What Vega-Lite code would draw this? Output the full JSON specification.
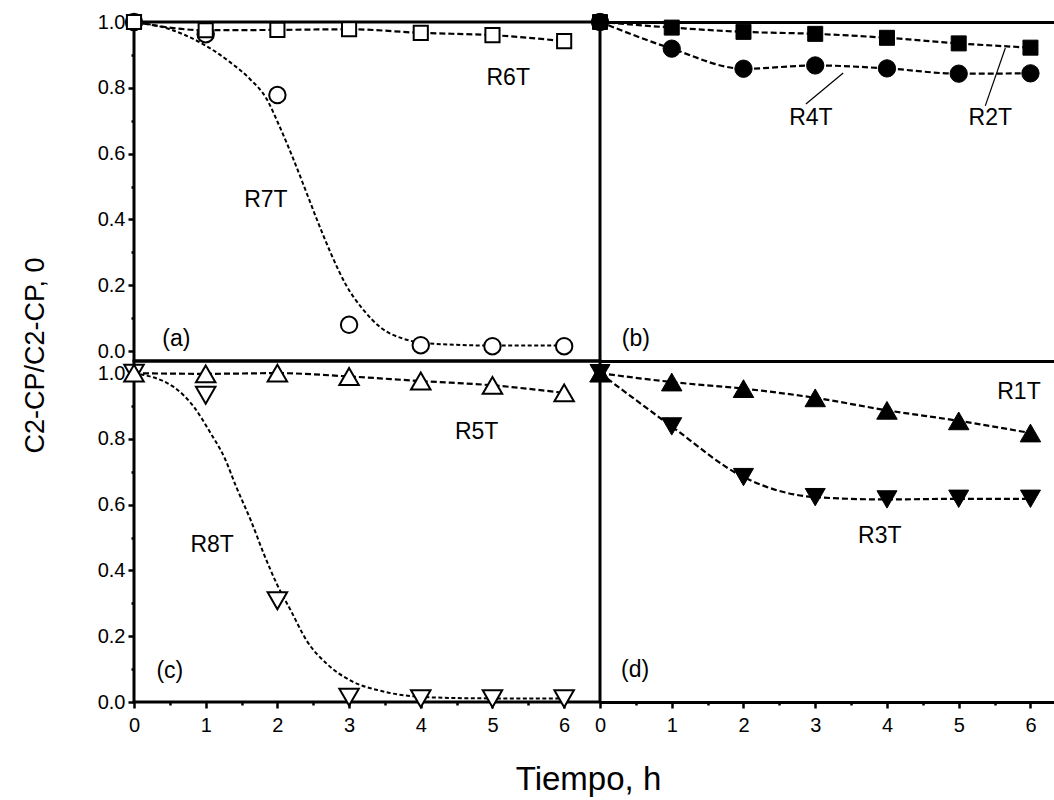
{
  "$schema": "https://vega.github.io/schema/vega-lite/v6.json",
  "background": "white",
  "padding": {"left": 19, "top": 8, "right": 0, "bottom": 0},
  "config": {
    "view": {"stroke": null},
    "font": "Liberation Sans",
    "axis": {
      "labelFont": "Liberation Sans",
      "labelFontSize": 20,
      "labelColor": "black",
      "tickColor": "black",
      "tickWidth": 2.5,
      "domainColor": "black",
      "domainWidth": 3,
      "titleFont": "Liberation Sans",
      "titleColor": "black",
      "titleFontWeight": "normal",
      "labelOverlap": false,
      "labelFlush": false
    }
  },
  "datasets": {
    "pts": [
      {"panel": "a", "series": "R7T", "x": 0, "y": 1.0},
      {"panel": "a", "series": "R7T", "x": 1, "y": 0.963},
      {"panel": "a", "series": "R7T", "x": 2, "y": 0.778},
      {"panel": "a", "series": "R7T", "x": 3, "y": 0.08},
      {"panel": "a", "series": "R7T", "x": 4, "y": 0.018},
      {"panel": "a", "series": "R7T", "x": 5, "y": 0.015},
      {"panel": "a", "series": "R7T", "x": 6, "y": 0.015},
      {"panel": "a", "series": "R6T", "x": 0, "y": 1.0},
      {"panel": "a", "series": "R6T", "x": 1, "y": 0.975},
      {"panel": "a", "series": "R6T", "x": 2, "y": 0.976},
      {"panel": "a", "series": "R6T", "x": 3, "y": 0.978},
      {"panel": "a", "series": "R6T", "x": 4, "y": 0.967},
      {"panel": "a", "series": "R6T", "x": 5, "y": 0.96},
      {"panel": "a", "series": "R6T", "x": 6, "y": 0.942},
      {"panel": "b", "series": "R4T", "x": 0, "y": 1.0},
      {"panel": "b", "series": "R4T", "x": 1, "y": 0.919},
      {"panel": "b", "series": "R4T", "x": 2, "y": 0.858},
      {"panel": "b", "series": "R4T", "x": 3, "y": 0.868},
      {"panel": "b", "series": "R4T", "x": 4, "y": 0.859},
      {"panel": "b", "series": "R4T", "x": 5, "y": 0.843},
      {"panel": "b", "series": "R4T", "x": 6, "y": 0.844},
      {"panel": "b", "series": "R2T", "x": 0, "y": 1.0},
      {"panel": "b", "series": "R2T", "x": 1, "y": 0.983},
      {"panel": "b", "series": "R2T", "x": 2, "y": 0.97},
      {"panel": "b", "series": "R2T", "x": 3, "y": 0.964},
      {"panel": "b", "series": "R2T", "x": 4, "y": 0.952},
      {"panel": "b", "series": "R2T", "x": 5, "y": 0.935},
      {"panel": "b", "series": "R2T", "x": 6, "y": 0.922},
      {"panel": "c", "series": "R8T", "x": 0, "y": 1.0},
      {"panel": "c", "series": "R8T", "x": 1, "y": 0.933},
      {"panel": "c", "series": "R8T", "x": 2, "y": 0.308},
      {"panel": "c", "series": "R8T", "x": 3, "y": 0.015},
      {"panel": "c", "series": "R8T", "x": 4, "y": 0.01},
      {"panel": "c", "series": "R8T", "x": 5, "y": 0.01},
      {"panel": "c", "series": "R8T", "x": 6, "y": 0.01},
      {"panel": "c", "series": "R5T", "x": 0, "y": 1.0},
      {"panel": "c", "series": "R5T", "x": 1, "y": 0.998},
      {"panel": "c", "series": "R5T", "x": 2, "y": 1.0},
      {"panel": "c", "series": "R5T", "x": 3, "y": 0.99},
      {"panel": "c", "series": "R5T", "x": 4, "y": 0.976},
      {"panel": "c", "series": "R5T", "x": 5, "y": 0.963},
      {"panel": "c", "series": "R5T", "x": 6, "y": 0.94},
      {"panel": "d", "series": "R3T", "x": 0, "y": 1.0},
      {"panel": "d", "series": "R3T", "x": 1, "y": 0.838},
      {"panel": "d", "series": "R3T", "x": 2, "y": 0.684},
      {"panel": "d", "series": "R3T", "x": 3, "y": 0.623},
      {"panel": "d", "series": "R3T", "x": 4, "y": 0.616},
      {"panel": "d", "series": "R3T", "x": 5, "y": 0.618},
      {"panel": "d", "series": "R3T", "x": 6, "y": 0.618},
      {"panel": "d", "series": "R1T", "x": 0, "y": 1.0},
      {"panel": "d", "series": "R1T", "x": 1, "y": 0.973},
      {"panel": "d", "series": "R1T", "x": 2, "y": 0.953},
      {"panel": "d", "series": "R1T", "x": 3, "y": 0.925},
      {"panel": "d", "series": "R1T", "x": 4, "y": 0.887},
      {"panel": "d", "series": "R1T", "x": 5, "y": 0.855},
      {"panel": "d", "series": "R1T", "x": 6, "y": 0.818}
    ],
    "curves": [
      {"panel": "a", "series": "R7T", "x": 0, "y": 1.0},
      {"panel": "a", "series": "R7T", "x": 0.5, "y": 0.978},
      {"panel": "a", "series": "R7T", "x": 0.92, "y": 0.938},
      {"panel": "a", "series": "R7T", "x": 1.34, "y": 0.878},
      {"panel": "a", "series": "R7T", "x": 1.62, "y": 0.826},
      {"panel": "a", "series": "R7T", "x": 1.84, "y": 0.77},
      {"panel": "a", "series": "R7T", "x": 2.03, "y": 0.683},
      {"panel": "a", "series": "R7T", "x": 2.22, "y": 0.585},
      {"panel": "a", "series": "R7T", "x": 2.4, "y": 0.485},
      {"panel": "a", "series": "R7T", "x": 2.56, "y": 0.395},
      {"panel": "a", "series": "R7T", "x": 2.75, "y": 0.295},
      {"panel": "a", "series": "R7T", "x": 2.96, "y": 0.2},
      {"panel": "a", "series": "R7T", "x": 3.19, "y": 0.128},
      {"panel": "a", "series": "R7T", "x": 3.44, "y": 0.072},
      {"panel": "a", "series": "R7T", "x": 3.75, "y": 0.038},
      {"panel": "a", "series": "R7T", "x": 4.0, "y": 0.026},
      {"panel": "a", "series": "R7T", "x": 4.5, "y": 0.019},
      {"panel": "a", "series": "R7T", "x": 5.0, "y": 0.017},
      {"panel": "a", "series": "R7T", "x": 6.0, "y": 0.017},
      {"panel": "c", "series": "R8T", "x": 0, "y": 1.0},
      {"panel": "c", "series": "R8T", "x": 0.56, "y": 0.957},
      {"panel": "c", "series": "R8T", "x": 0.84, "y": 0.896},
      {"panel": "c", "series": "R8T", "x": 1.07, "y": 0.817},
      {"panel": "c", "series": "R8T", "x": 1.26, "y": 0.744},
      {"panel": "c", "series": "R8T", "x": 1.43, "y": 0.652},
      {"panel": "c", "series": "R8T", "x": 1.63, "y": 0.552},
      {"panel": "c", "series": "R8T", "x": 1.81, "y": 0.451},
      {"panel": "c", "series": "R8T", "x": 1.99, "y": 0.36},
      {"panel": "c", "series": "R8T", "x": 2.19, "y": 0.277},
      {"panel": "c", "series": "R8T", "x": 2.41, "y": 0.186},
      {"panel": "c", "series": "R8T", "x": 2.69, "y": 0.116},
      {"panel": "c", "series": "R8T", "x": 3.03, "y": 0.064},
      {"panel": "c", "series": "R8T", "x": 3.44, "y": 0.034},
      {"panel": "c", "series": "R8T", "x": 3.86, "y": 0.018},
      {"panel": "c", "series": "R8T", "x": 4.5, "y": 0.012},
      {"panel": "c", "series": "R8T", "x": 5.0, "y": 0.011},
      {"panel": "c", "series": "R8T", "x": 6.0, "y": 0.011}
    ],
    "labels": [
      {"panel": "a", "text": "R6T", "x": 5.22, "y": 0.83},
      {"panel": "a", "text": "R7T", "x": 1.84, "y": 0.459},
      {"panel": "a", "text": "(a)", "x": 0.59, "y": 0.038},
      {"panel": "b", "text": "R4T", "x": 2.94, "y": 0.708},
      {"panel": "b", "text": "R2T", "x": 5.44, "y": 0.708},
      {"panel": "b", "text": "(b)", "x": 0.5, "y": 0.038},
      {"panel": "c", "text": "R5T", "x": 4.78, "y": 0.82},
      {"panel": "c", "text": "R8T", "x": 1.09, "y": 0.476},
      {"panel": "c", "text": "(c)", "x": 0.5, "y": 0.093},
      {"panel": "d", "text": "R1T", "x": 5.84, "y": 0.942},
      {"panel": "d", "text": "R3T", "x": 3.9, "y": 0.506},
      {"panel": "d", "text": "(d)", "x": 0.49, "y": 0.098}
    ],
    "leaders": [
      {"panel": "b", "x": 2.87, "y": 0.751, "x2": 3.39, "y2": 0.845},
      {"panel": "b", "x": 5.37, "y": 0.745, "x2": 5.65, "y2": 0.921}
    ]
  },
  "concat": [
    {
      "width": 466,
      "height": 339,
      "view": {"stroke": "black", "strokeWidth": 3},
      "encoding": {
        "x": {"field": "x", "type": "quantitative", "scale": {"domain": [0, 6.5], "nice": false, "zero": false}, "axis": null},
        "y": {"field": "y", "type": "quantitative", "scale": {"domain": [-0.03, 1.0], "nice": false, "zero": false},
          "axis": {"values": [0, 0.1, 0.2, 0.3, 0.4, 0.5, 0.6, 0.7, 0.8, 0.9, 1.0],
            "labelExpr": "round(datum.value*10)%2===0 ? format(datum.value,'.1f') : ''",
            "tickSize": {"condition": {"test": "round(datum.value*10)%2===1", "value": 3}, "value": 6},
            "domain": false, "grid": false, "labelPadding": 3, "title": null}}
      },
      "layer": [
        {"data": {"name": "pts"}, "transform": [{"filter": "datum.panel==='a' && datum.series!=='R7T'"}],
          "mark": {"type": "line", "color": "black", "strokeWidth": 2.2, "strokeDash": [6, 3], "interpolate": "monotone"},
          "encoding": {"detail": {"field": "series", "type": "nominal"}}},
        {"data": {"name": "curves"}, "transform": [{"filter": "datum.panel==='a'"}],
          "mark": {"type": "line", "color": "black", "strokeWidth": 2, "strokeDash": [4, 2.5], "interpolate": "monotone"},
          "encoding": {"detail": {"field": "series", "type": "nominal"}}},
        {"data": {"name": "pts"}, "transform": [{"filter": "datum.panel==='a'"}],
          "mark": {"type": "point", "filled": true, "stroke": "black", "strokeWidth": 2, "opacity": 1},
          "encoding": {
            "shape": {"field": "series", "type": "nominal", "scale": {"domain": ["R1T","R2T","R3T","R4T","R5T","R6T","R7T","R8T"], "range": ["triangle-up","square","triangle-down","circle","triangle-up","square","circle","triangle-down"]}, "legend": null},
            "fill": {"field": "series", "type": "nominal", "scale": {"domain": ["R1T","R2T","R3T","R4T","R5T","R6T","R7T","R8T"], "range": ["black","black","black","black","white","white","white","white"]}, "legend": null},
            "size": {"field": "series", "type": "nominal", "scale": {"type": "ordinal", "domain": ["R1T","R2T","R3T","R4T","R5T","R6T","R7T","R8T"], "range": [420, 225, 400, 300, 380, 200, 270, 380]}, "legend": null}
          }},
        {"data": {"name": "labels"}, "transform": [{"filter": "datum.panel==='a'"}],
          "mark": {"type": "text", "font": "Liberation Sans", "fontSize": 23, "color": "black", "align": "center", "baseline": "middle"},
          "encoding": {"text": {"field": "text", "type": "nominal"}}}
      ]
    },
    {
      "width": 457,
      "height": 339,
      "encoding": {
        "x": {"field": "x", "type": "quantitative", "scale": {"domain": [0, 6.37], "nice": false, "zero": false}, "axis": null},
        "y": {"field": "y", "type": "quantitative", "scale": {"domain": [-0.03, 1.0], "nice": false, "zero": false},
          "axis": {"values": [-0.03, 1.0], "grid": true, "gridColor": "black", "gridWidth": 3, "gridOpacity": 1, "labels": false, "ticks": false, "domain": false, "title": null}}
      },
      "layer": [
        {"data": {"name": "pts"}, "transform": [{"filter": "datum.panel==='b'"}],
          "mark": {"type": "line", "color": "black", "strokeWidth": 2.2, "strokeDash": [6, 3], "interpolate": "monotone"},
          "encoding": {"detail": {"field": "series", "type": "nominal"}}},
        {"data": {"name": "leaders"}, "transform": [{"filter": "datum.panel==='b'"}],
          "mark": {"type": "rule", "color": "black", "strokeWidth": 1.2},
          "encoding": {"x2": {"field": "x2"}, "y2": {"field": "y2"}}},
        {"data": {"name": "pts"}, "transform": [{"filter": "datum.panel==='b'"}],
          "mark": {"type": "point", "filled": true, "stroke": "black", "strokeWidth": 1, "opacity": 1},
          "encoding": {
            "shape": {"field": "series", "type": "nominal", "scale": {"domain": ["R1T","R2T","R3T","R4T","R5T","R6T","R7T","R8T"], "range": ["triangle-up","square","triangle-down","circle","triangle-up","square","circle","triangle-down"]}, "legend": null},
            "fill": {"field": "series", "type": "nominal", "scale": {"domain": ["R1T","R2T","R3T","R4T","R5T","R6T","R7T","R8T"], "range": ["black","black","black","black","white","white","white","white"]}, "legend": null},
            "size": {"field": "series", "type": "nominal", "scale": {"type": "ordinal", "domain": ["R1T","R2T","R3T","R4T","R5T","R6T","R7T","R8T"], "range": [420, 225, 400, 300, 380, 200, 270, 380]}, "legend": null}
          }},
        {"data": {"name": "labels"}, "transform": [{"filter": "datum.panel==='b'"}],
          "mark": {"type": "text", "font": "Liberation Sans", "fontSize": 23, "color": "black", "align": "center", "baseline": "middle"},
          "encoding": {"text": {"field": "text", "type": "nominal"}}}
      ]
    },
    {
      "width": 466,
      "height": 341,
      "view": {"stroke": "black", "strokeWidth": 3},
      "encoding": {
        "x": {"field": "x", "type": "quantitative", "scale": {"domain": [0, 6.5], "nice": false, "zero": false},
          "axis": {"values": [0, 0.5, 1, 1.5, 2, 2.5, 3, 3.5, 4, 4.5, 5, 5.5, 6],
            "labelExpr": "datum.value % 1 === 0 ? format(datum.value,'d') : ''",
            "tickSize": {"condition": {"test": "datum.value % 1 !== 0", "value": 3}, "value": 6},
            "domain": false, "grid": false, "labelPadding": 7,
            "title": "Tiempo, h", "titleFontSize": 33, "titleX": 454, "titleY": 87, "titleAlign": "center", "titleBaseline": "alphabetic", "titleAngle": 0}},
        "y": {"field": "y", "type": "quantitative", "scale": {"domain": [0, 1.037], "nice": false, "zero": false},
          "axis": {"values": [0, 0.1, 0.2, 0.3, 0.4, 0.5, 0.6, 0.7, 0.8, 0.9, 1.0],
            "labelExpr": "round(datum.value*10)%2===0 ? format(datum.value,'.1f') : ''",
            "tickSize": {"condition": {"test": "round(datum.value*10)%2===1", "value": 3}, "value": 6},
            "domain": false, "grid": false, "labelPadding": 3,
            "title": "C2-CP/C2-CP, 0", "titleFontSize": 27, "titleX": -91, "titleY": -6, "titleAngle": 270, "titleAlign": "center", "titleBaseline": "alphabetic"}}
      },
      "layer": [
        {"data": {"name": "pts"}, "transform": [{"filter": "datum.panel==='c' && datum.series!=='R8T'"}],
          "mark": {"type": "line", "color": "black", "strokeWidth": 2.2, "strokeDash": [6, 3], "interpolate": "monotone"},
          "encoding": {"detail": {"field": "series", "type": "nominal"}}},
        {"data": {"name": "curves"}, "transform": [{"filter": "datum.panel==='c'"}],
          "mark": {"type": "line", "color": "black", "strokeWidth": 2, "strokeDash": [4, 2.5], "interpolate": "monotone"},
          "encoding": {"detail": {"field": "series", "type": "nominal"}}},
        {"data": {"name": "pts"}, "transform": [{"filter": "datum.panel==='c'"}],
          "mark": {"type": "point", "filled": true, "stroke": "black", "strokeWidth": 2, "opacity": 1},
          "encoding": {
            "shape": {"field": "series", "type": "nominal", "scale": {"domain": ["R1T","R2T","R3T","R4T","R5T","R6T","R7T","R8T"], "range": ["triangle-up","square","triangle-down","circle","triangle-up","square","circle","triangle-down"]}, "legend": null},
            "fill": {"field": "series", "type": "nominal", "scale": {"domain": ["R1T","R2T","R3T","R4T","R5T","R6T","R7T","R8T"], "range": ["black","black","black","black","white","white","white","white"]}, "legend": null},
            "size": {"field": "series", "type": "nominal", "scale": {"type": "ordinal", "domain": ["R1T","R2T","R3T","R4T","R5T","R6T","R7T","R8T"], "range": [420, 225, 400, 300, 380, 200, 270, 380]}, "legend": null}
          }},
        {"data": {"name": "labels"}, "transform": [{"filter": "datum.panel==='c'"}],
          "mark": {"type": "text", "font": "Liberation Sans", "fontSize": 23, "color": "black", "align": "center", "baseline": "middle"},
          "encoding": {"text": {"field": "text", "type": "nominal"}}}
      ]
    },
    {
      "width": 457,
      "height": 341,
      "encoding": {
        "x": {"field": "x", "type": "quantitative", "scale": {"domain": [0, 6.37], "nice": false, "zero": false},
          "axis": {"values": [0, 0.5, 1, 1.5, 2, 2.5, 3, 3.5, 4, 4.5, 5, 5.5, 6],
            "labelExpr": "datum.value % 1 === 0 ? format(datum.value,'d') : ''",
            "tickSize": {"condition": {"test": "datum.value % 1 !== 0", "value": 3}, "value": 6},
            "domain": true, "grid": false, "labelPadding": 7, "title": null}},
        "y": {"field": "y", "type": "quantitative", "scale": {"domain": [0, 1.037], "nice": false, "zero": false}, "axis": null}
      },
      "layer": [
        {"data": {"name": "pts"}, "transform": [{"filter": "datum.panel==='d'"}],
          "mark": {"type": "line", "color": "black", "strokeWidth": 2.2, "strokeDash": [6, 3], "interpolate": "monotone"},
          "encoding": {"detail": {"field": "series", "type": "nominal"}}},
        {"data": {"name": "pts"}, "transform": [{"filter": "datum.panel==='d'"}],
          "mark": {"type": "point", "filled": true, "stroke": "black", "strokeWidth": 1, "opacity": 1},
          "encoding": {
            "shape": {"field": "series", "type": "nominal", "scale": {"domain": ["R1T","R2T","R3T","R4T","R5T","R6T","R7T","R8T"], "range": ["triangle-up","square","triangle-down","circle","triangle-up","square","circle","triangle-down"]}, "legend": null},
            "fill": {"field": "series", "type": "nominal", "scale": {"domain": ["R1T","R2T","R3T","R4T","R5T","R6T","R7T","R8T"], "range": ["black","black","black","black","white","white","white","white"]}, "legend": null},
            "size": {"field": "series", "type": "nominal", "scale": {"type": "ordinal", "domain": ["R1T","R2T","R3T","R4T","R5T","R6T","R7T","R8T"], "range": [420, 225, 400, 300, 380, 200, 270, 380]}, "legend": null}
          }},
        {"data": {"name": "labels"}, "transform": [{"filter": "datum.panel==='d'"}],
          "mark": {"type": "text", "font": "Liberation Sans", "fontSize": 23, "color": "black", "align": "center", "baseline": "middle"},
          "encoding": {"text": {"field": "text", "type": "nominal"}}}
      ]
    }
  ],
  "columns": 2,
  "spacing": 0,
  "bounds": "flush"
}
